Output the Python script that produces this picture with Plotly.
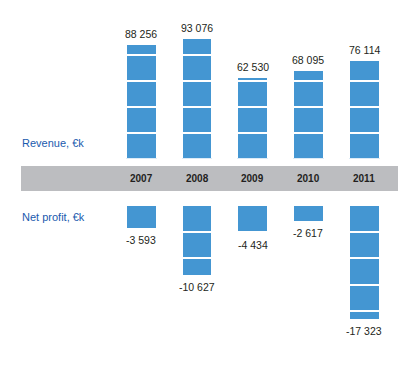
import plotly.graph_objects as go

years = ["2007", "2008", "2009", "2010", "2011"]
revenue = [88256, 93076, 62530, 68095, 76114]
net_profit = [-3593, -10627, -4434, -2617, -17323]
rev_step = 20000
np_step = 4000

BAR = "#4496D2"
OFF = 8  # default page body margin
W, H = 406 - OFF, 392 - OFF


def fmt(v):
    return f"{v:,}".replace(",", " ")


def segments(values, step):
    # split each bar into full blocks of `step`, remainder on the outer end
    sign = 1 if values[0] >= 0 else -1
    mags = [abs(v) for v in values]
    nmax = max(int(m // step) for m in mags) + 1
    layers = []
    for k in range(nmax):
        layer = []
        for m in mags:
            rem = m - k * step
            layer.append(sign * max(0, min(step, rem)))
        layers.append(layer)
    return layers


pitch = 55.7
bw = 0.556

fig = go.Figure()
xs = list(range(len(years)))

for layer in segments(revenue, rev_step):
    fig.add_trace(go.Bar(x=xs, y=layer, width=bw, marker=dict(color=BAR, line=dict(color="white", width=2)),
                         xaxis="x", yaxis="y", showlegend=False, hoverinfo="skip"))
for layer in segments(net_profit, np_step):
    fig.add_trace(go.Bar(x=xs, y=layer, width=bw, marker=dict(color=BAR, line=dict(color="white", width=2)),
                         xaxis="x2", yaxis="y2", showlegend=False, hoverinfo="skip"))

FONT = "Liberation Sans, Arial"
ann = []
for i, v in enumerate(revenue):
    ann.append(dict(x=i, y=v, xref="x", yref="y", text=fmt(v), showarrow=False, yanchor="bottom", yshift=2,
                    font=dict(family=FONT, size=10.5, color="#231F20")))
for i, v in enumerate(net_profit):
    ann.append(dict(x=i, y=v, xref="x2", yref="y2", text=fmt(v), showarrow=False, yanchor="top", yshift=-3,
                    font=dict(family=FONT, size=10.5, color="#231F20")))
for i, y in enumerate(years):
    ann.append(dict(x=i, y=1 - (178.5 - OFF) / H, xref="x", yref="paper", text="<b>" + y + "</b>", showarrow=False,
                    yanchor="middle", font=dict(family=FONT, size=10, color="#231F20")))
ann.append(dict(x=(20 - OFF) / W, y=1 - (143 - OFF) / H, xref="paper", yref="paper", text="Revenue, €k",
                showarrow=False, xanchor="left", yanchor="middle", font=dict(family=FONT, size=11, color="#1A5AAE")))
ann.append(dict(x=(20 - OFF) / W, y=1 - (217 - OFF) / H, xref="paper", yref="paper", text="Net profit, €k",
                showarrow=False, xanchor="left", yanchor="middle", font=dict(family=FONT, size=11, color="#1A5AAE")))

x0 = -(141.3 - OFF) / pitch
x1 = x0 + W / pitch
top_base = 158.7 - OFF
bot_base = 205.0 - OFF

fig.update_layout(
    width=W, height=H, margin=dict(l=0, r=0, t=0, b=0),
    paper_bgcolor="white", plot_bgcolor="white",
    barmode="stack",
    xaxis=dict(range=[x0, x1], visible=False, domain=[0, 1]),
    xaxis2=dict(range=[x0, x1], visible=False, domain=[0, 1], anchor="y2"),
    yaxis=dict(range=[0, top_base / 1.3 * 1000], domain=[1 - top_base / H, 1], visible=False),
    yaxis2=dict(range=[-(H - bot_base) / 6.65 * 1000, 0], domain=[0, 1 - bot_base / H], visible=False, anchor="x2"),
    shapes=[dict(type="rect", xref="paper", yref="paper", x0=(21 - OFF) / W, x1=(399 - OFF) / W,
                 y0=1 - (191 - OFF) / H, y1=1 - (166 - OFF) / H,
                 fillcolor="#BCBDC0", line=dict(width=0), layer="below")],
    annotations=ann,
)

fig.write_html("out.html")
